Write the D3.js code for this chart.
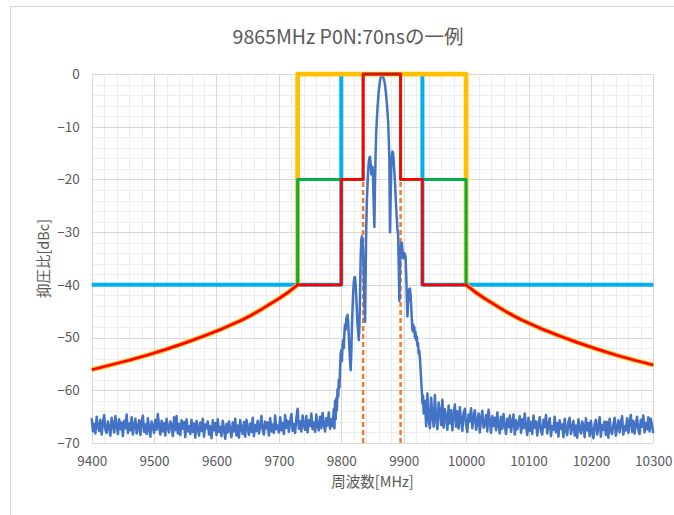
<!DOCTYPE html>
<html>
<head>
<meta charset="utf-8">
<script src="https://cdn.jsdelivr.net/npm/d3@7"></script>
<style>
  html, body { margin: 0; padding: 0; background: #ffffff; }
  svg { display: block; }
  text { font-family: "Noto Sans CJK JP", "Noto Sans", sans-serif; fill: #595959; }
</style>
</head>
<body>
<svg id="chart" width="674" height="515"></svg>
<script>
// ---------------- data ----------------
const titleText = "9865MHz P0N:70nsの一例";
const xTitle = "周波数[MHz]";
const yTitle = "抑圧比[dBc]";

const xTicks = [9400, 9500, 9600, 9700, 9800, 9900, 10000, 10100, 10200, 10300];
const yTicks = [0, -10, -20, -30, -40, -50, -60, -70];

// measured spectrum: noise floor left (9400 + 2 MHz * i)
const noiseStep = 2;
const noiseLeftStart = 9400;
const noiseLeftDb = [
  -65.3,-67.8,-66.4,-68.2,-65.0,-66.9,-67.7,-65.6,-68.4,-66.2,
  -64.7,-67.5,-68.1,-65.9,-67.0,-68.6,-65.2,-66.6,-68.0,-64.9,
  -66.8,-68.3,-65.5,-67.4,-66.1,-68.7,-65.8,-67.2,-64.6,-68.1,
  -66.3,-67.6,-65.1,-68.4,-66.7,-65.4,-68.2,-67.1,-65.7,-68.5,
  -66.0,-64.8,-67.9,-66.5,-68.3,-65.3,-67.3,-68.8,-65.9,-66.8,
  -68.1,-65.6,-67.5,-64.5,-66.9,-68.4,-65.8,-67.8,-66.2,-68.6,
  -65.4,-67.1,-68.0,-65.9,-66.6,-68.7,-65.1,-67.6,-64.9,-68.2,
  -66.4,-68.5,-65.7,-67.3,-66.0,-68.9,-65.5,-67.8,-66.8,-68.3,
  -65.6,-67.9,-66.3,-69.0,-65.8,-67.4,-68.6,-66.1,-67.7,-65.4,
  -68.8,-66.5,-67.2,-65.9,-68.4,-66.8,-69.1,-65.7,-67.6,-66.2,
  -68.5,-65.5,-67.9,-66.9,-68.7,-65.8,-67.3,-69.2,-66.4,-68.0,
  -65.9,-67.5,-68.9,-66.1,-67.8,-65.4,-68.6,-66.7,-69.0,-65.7,
  -67.4,-68.3,-66.0,-68.8,-65.6,-67.1,-68.5,-66.3,-67.9,-65.2,
  -68.7,-66.6,-67.7,-65.8,-68.2,-66.9,-64.9,-67.5,-68.4,-65.9,
  -67.2,-66.1,-68.6,-65.3,-67.8,-66.5,-68.1,-64.8,-67.4,-66.7,
  -68.0,-65.1,-67.6,-66.2,-68.3,-64.7,-67.1,-65.8,-67.9,-66.0,
  -64.5,-67.7,-66.4,-68.1,-65.2,-63.5,-67.3,-65.9,-67.8,-64.8,
  -66.6,-67.5,-64.9,-68.0,-65.7,-66.8,-64.4,-67.4,-66.1,-67.9,
  -64.6,-66.9,-67.6,-65.0,-67.2,-64.3,-66.5,-67.8,-65.3,-66.7,
  -64.2,-67.3,-65.5,-66.8
];

// measured spectrum: pulse main lobe and side lobes (1 MHz)
const lobeFreq = [
  9788,9789,9790,9791,9792,9793,9794,9795,9796,9797,9798,9799,9800,9801,9802,9803,9804,9805,9806,9807,
  9808,9809,9810,9811,9812,9813,9814,9815,9816,9817,9818,9819,9820,9821,9822,9823,9824,9825,9826,9827,
  9828,9829,9830,9831,9832,9833,9834,9835,9836,9837,9838,9839,9840,9841,9842,9843,9844,9845,9846,9847,
  9848,9849,9850,9851,9852,9853,9854,9855,9856,9857,9858,9859,9860,9861,9862,9863,9864,9865,9866,9867,
  9868,9869,9870,9871,9872,9873,9874,9875,9876,9877,9878,9879,9880,9881,9882,9883,9884,9885,9886,9887,
  9888,9889,9890,9891,9892,9893,9894,9895,9896,9897,9898,9899,9900,9901,9902,9903,9904,9905,9906,9907,
  9908,9909,9910,9911,9912,9913,9914,9915,9916,9917,9918,9919,9920,9921,9922,9923,9924,9925,9926,9927,
  9928,9929,9930,9931,9932
];
const lobeDb = [
  -63.5,-67.2,-62.0,-65.5,-61.5,-63.8,-59.8,-61.2,-58.0,-59.5,-56.0,-53.0,-52.4,-54.5,-51.5,-50.5,-52.0,-49.0,-47.5,-48.5,
  -46.5,-46.0,-45.7,-47.0,-49.5,-52.0,-54.5,-56.2,-53.0,-48.0,-44.5,-41.5,-39.5,-38.6,-38.5,-40.0,-42.5,-45.0,-47.5,-49.0,
  -50.5,-48.0,-42.0,-35.0,-31.5,-30.8,-31.5,-34.0,-38.0,-43.0,-47.0,-38.0,-29.0,-24.0,-21.0,-18.5,-16.8,-15.9,-15.7,-17.0,
  -19.0,-18.0,-17.6,-20.0,-25.0,-29.0,-21.0,-15.0,-11.0,-8.5,-6.5,-4.8,-3.3,-2.2,-1.3,-0.7,-0.4,-0.3,-0.3,-0.5,
  -0.9,-1.4,-2.0,-3.0,-4.2,-5.6,-7.2,-9.0,-12.0,-16.0,-30.0,-24.0,-18.0,-15.5,-14.7,-15.0,-16.5,-18.5,-20.5,-23.0,
  -25.5,-27.5,-29.5,-30.5,-36.0,-43.0,-37.0,-33.0,-32.0,-32.0,-33.5,-35.0,-34.5,-34.0,-34.2,-34.7,-38.0,-42.5,-46.0,-43.5,
  -41.5,-40.8,-40.7,-42.0,-44.0,-46.5,-48.6,-47.5,-49.0,-48.0,-50.0,-49.0,-50.5,-49.8,-51.5,-51.0,-53.0,-52.5,-54.0,-56.0,
  -58.0,-60.0,-62.5,-61.0,-64.4
];

// measured spectrum: noise floor right (9934 + 2 MHz * i)
const noiseRightStart = 9934;
const noiseRightDb = [
  -62.0,-66.8,-60.6,-65.5,-67.2,-61.4,-64.8,-66.9,-60.9,-65.7,
  -67.4,-62.3,-64.1,-66.6,-61.8,-67.1,-63.6,-65.2,-67.5,-62.9,
  -66.3,-63.8,-67.6,-64.5,-62.7,-66.9,-64.0,-67.3,-63.2,-65.8,
  -67.7,-64.3,-63.5,-66.6,-67.9,-64.6,-65.9,-63.4,-67.2,-65.1,
  -63.8,-67.5,-66.2,-64.4,-68.0,-65.3,-63.9,-67.1,-66.5,-64.7,
  -67.8,-63.7,-66.0,-68.1,-64.9,-66.8,-65.2,-67.6,-64.2,-66.4,
  -68.2,-65.0,-67.3,-64.5,-66.7,-68.3,-65.4,-67.0,-64.8,-67.9,
  -66.1,-64.6,-68.4,-65.7,-67.4,-66.3,-64.9,-68.1,-65.5,-67.2,
  -64.4,-66.9,-68.5,-65.2,-67.7,-66.0,-68.3,-64.8,-67.1,-65.9,
  -68.6,-66.4,-65.1,-67.8,-68.4,-65.6,-67.0,-64.7,-68.2,-66.6,
  -65.3,-68.7,-66.8,-67.5,-65.0,-68.0,-66.2,-68.8,-65.7,-67.3,
  -66.5,-68.9,-65.4,-67.7,-68.5,-66.0,-65.2,-68.3,-67.1,-65.8,
  -68.6,-66.7,-69.0,-65.5,-67.4,-68.2,-65.9,-66.8,-68.9,-65.3,
  -67.6,-66.2,-68.7,-65.8,-67.9,-69.1,-66.4,-65.6,-68.4,-67.0,
  -65.1,-68.8,-66.6,-67.5,-65.9,-68.5,-66.0,-69.0,-65.4,-67.7,
  -68.3,-66.5,-65.2,-68.6,-67.2,-65.7,-68.0,-66.3,-64.9,-68.4,
  -66.8,-67.6,-65.3,-68.1,-66.1,-64.7,-67.9,-65.8,-68.2,-66.4,
  -65.0,-67.5,-68.3,-65.6,-66.9,-64.8,-68.0,-66.2,-67.4,-65.1,
  -67.8,-65.4,-66.7,-68.1
];

// mask skirt (shared by yellow / red masks)
const skirtLeftFreq  = [9400, 9430, 9460, 9490, 9520, 9550, 9580, 9610, 9640, 9655, 9670, 9685, 9700, 9715, 9730];
const skirtLeftDb    = [-56.1,-55.2,-54.3,-53.3,-52.2,-51.0,-49.7,-48.3,-46.7,-45.8,-44.8,-43.7,-42.6,-41.4,-40.0];
const skirtRightFreq = [10000,10015,10030,10045,10060,10075,10090,10120,10150,10180,10210,10240,10270,10300];
const skirtRightDb   = [-40.0,-41.4,-42.6,-43.7,-44.8,-45.8,-46.7,-48.3,-49.7,-51.0,-52.2,-53.3,-54.3,-55.2];

// step masks
const yellowFreq = [9730, 9730, 10000, 10000];
const yellowDb   = [-40, 0, 0, -40];
const redFreq    = [9730, 9800, 9800, 9835, 9835, 9895, 9895, 9930, 9930, 10000];
const redDb      = [-40, -40, -20, -20, 0, 0, -20, -20, -40, -40];
const greenFreq  = [9730, 9730, 9835, 9835, 9895, 9895, 10000, 10000];
const greenDb    = [-40, -20, -20, 0, 0, -20, -20, -40];
const cyanFreq   = [9400, 9800, 9800, 9930, 9930, 10300];
const cyanDb     = [-40, -40, 0, 0, -40, -40];

// dashed markers
const markerFreq = [9835, 9895];
const markerBottom = -70, markerTop = -20;

// ---------------- layout ----------------
const svg = d3.select("#chart");
const plot = { left: 91.7, right: 653.3, top: 74, bottom: 443 };

const x = d3.scaleLinear().domain([9400, 10300]).range([plot.left, plot.right]);
const y = d3.scaleLinear().domain([-70, 0]).range([plot.bottom, plot.top]);

// chart frame
svg.append("rect")
  .attr("x", 10.5).attr("y", 6.5).attr("width", 700).attr("height", 600)
  .attr("fill", "#ffffff").attr("stroke", "#d9d9d9").attr("stroke-width", 1);

// minor grid
const g = svg.append("g");
g.selectAll("line.mx").data(d3.range(9400, 10301, 20)).join("line")
  .attr("x1", d => Math.round(x(d)) + 0.5).attr("x2", d => Math.round(x(d)) + 0.5)
  .attr("y1", plot.top).attr("y2", plot.bottom)
  .attr("stroke", "#ededed").attr("stroke-width", 1);
g.selectAll("line.my").data(d3.range(-70, 0.1, 2)).join("line")
  .attr("y1", d => Math.round(y(d)) + 0.5).attr("y2", d => Math.round(y(d)) + 0.5)
  .attr("x1", plot.left).attr("x2", plot.right)
  .attr("stroke", "#ededed").attr("stroke-width", 1);
// major grid
g.selectAll("line.Mx").data(xTicks).join("line")
  .attr("x1", d => Math.round(x(d)) + 0.5).attr("x2", d => Math.round(x(d)) + 0.5)
  .attr("y1", plot.top).attr("y2", plot.bottom)
  .attr("stroke", "#d9d9d9").attr("stroke-width", 1);
g.selectAll("line.My").data(yTicks).join("line")
  .attr("y1", d => Math.round(y(d)) + 0.5).attr("y2", d => Math.round(y(d)) + 0.5)
  .attr("x1", plot.left).attr("x2", plot.right)
  .attr("stroke", "#d9d9d9").attr("stroke-width", 1);

// axes (labels only)
const xAxis = svg.append("g").attr("transform", `translate(0,${plot.bottom})`)
  .call(d3.axisBottom(x).tickValues(xTicks).tickSize(0).tickPadding(13).tickFormat(d3.format("d")));
xAxis.select(".domain").remove();
xAxis.selectAll("text").style("font-size", "13.5px").attr("fill", "#595959");

const yAxis = svg.append("g").attr("transform", `translate(${plot.left},0)`)
  .call(d3.axisLeft(y).tickValues(yTicks).tickSize(0).tickPadding(12).tickFormat(d3.format("d")));
yAxis.select(".domain").remove();
yAxis.selectAll("text").style("font-size", "13.5px").attr("fill", "#595959");

// ---------------- series ----------------
const line = d3.line().x(d => x(d[0])).y(d => y(d[1]));
const zip = (fs, vs) => fs.map((f, i) => [f, vs[i]]);

const spectrum = []
  .concat(noiseLeftDb.map((v, i) => [noiseLeftStart + noiseStep * i, v]))
  .concat(zip(lobeFreq, lobeDb))
  .concat(noiseRightDb.map((v, i) => [noiseRightStart + noiseStep * i, v]));

const skirtL = zip(skirtLeftFreq, skirtLeftDb);
const skirtR = zip(skirtRightFreq, skirtRightDb);
const yellowSeries = skirtL.concat(zip(yellowFreq, yellowDb)).concat(skirtR);
const redSeries = skirtL.concat(zip(redFreq, redDb)).concat(skirtR);
const greenSeries = zip(greenFreq, greenDb);
const cyanSeries = zip(cyanFreq, cyanDb);

const series = svg.append("g")
  .attr("fill", "none").attr("stroke-linejoin", "round").attr("stroke-linecap", "butt");

// dashed markers
series.selectAll("line.marker").data(markerFreq).join("line")
  .attr("x1", d => x(d)).attr("x2", d => x(d))
  .attr("y1", y(markerBottom)).attr("y2", y(markerTop))
  .attr("stroke", "#ED7D31").attr("stroke-width", 2.5).attr("stroke-dasharray", "5,3");

// spectrum
series.append("path").attr("d", line(spectrum))
  .attr("stroke", "#4472C4").attr("stroke-width", 2.5);

series.append("path").attr("d", line(cyanSeries))
  .attr("stroke", "#00B0F0").attr("stroke-width", 4);
series.append("path").attr("d", line(yellowSeries))
  .attr("stroke", "#FFC000").attr("stroke-width", 4.75);
series.append("path").attr("d", line(greenSeries))
  .attr("stroke", "#00B050").attr("stroke-width", 3);
series.append("path").attr("d", line(redSeries))
  .attr("stroke", "#FF0000").attr("stroke-width", 2.75);

// ---------------- titles ----------------
svg.append("text").attr("x", 348).attr("y", 43.5).attr("text-anchor", "middle")
  .style("font-size", "19.5px").text(titleText);
svg.append("text").attr("x", (plot.left + plot.right) / 2).attr("y", 487).attr("text-anchor", "middle")
  .style("font-size", "14.5px").text(xTitle);
svg.append("text").attr("transform", `translate(49,${(plot.top + plot.bottom) / 2}) rotate(-90)`)
  .attr("text-anchor", "middle").style("font-size", "14.5px").text(yTitle);
</script>
</body>
</html>
